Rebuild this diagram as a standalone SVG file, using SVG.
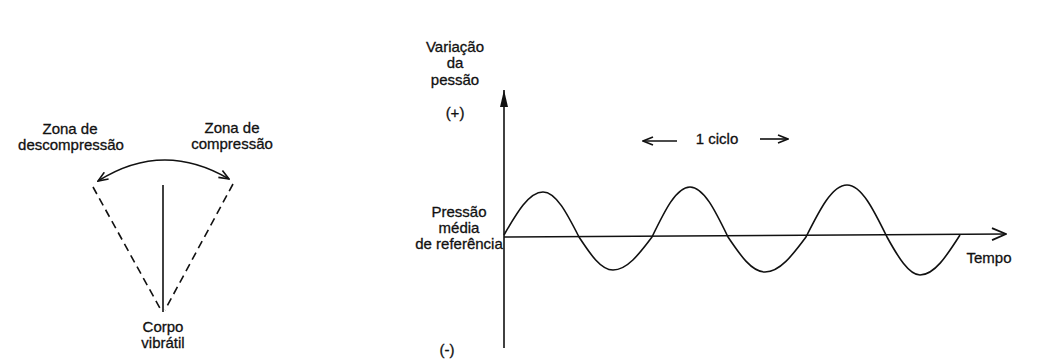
<svg xmlns="http://www.w3.org/2000/svg" width="1053" height="361" viewBox="0 0 1053 361">
<style>
text{font-family:"Liberation Sans",Arial,sans-serif;font-size:15px;fill:#111;stroke:#111;stroke-width:0.3;text-anchor:middle}
.ln{stroke:#111;stroke-width:1.6;fill:none}
.dash{stroke:#111;stroke-width:1.6;fill:none;stroke-dasharray:8 5}
</style>
<defs>
<marker id="open" viewBox="0 0 16 16" refX="15" refY="8" markerWidth="16" markerHeight="16" markerUnits="userSpaceOnUse" orient="auto-start-reverse">
<path d="M1,2 L15,8 L1,14" fill="none" stroke="#111" stroke-width="1.8"/>
</marker>
<marker id="fill" viewBox="0 0 18 10" refX="17" refY="5" markerWidth="18" markerHeight="10" markerUnits="userSpaceOnUse" orient="auto">
<path d="M0,1 L17,5 L0,9 Z" fill="#111"/>
</marker>
<marker id="small" viewBox="0 0 12 10" refX="11" refY="5" markerWidth="12" markerHeight="10" markerUnits="userSpaceOnUse" orient="auto-start-reverse">
<path d="M1,1 L11,5 L1,9" fill="none" stroke="#111" stroke-width="1.6"/>
</marker>
</defs>
<g id="labels-left">
<text x="70" y="134">Zona de</text>
<text x="71" y="150">descompressão</text>
<text x="232" y="133">Zona de</text>
<text x="232" y="149">compressão</text>
<text x="163" y="332">Corpo</text>
<text x="163" y="348">vibrátil</text>
</g>
<g id="connectors">
<path class="ln" d="M98,181 Q163,140 229,179" marker-start="url(#small)" marker-end="url(#small)"/>
<line class="dash" x1="93" y1="187" x2="161" y2="310"/>
<line class="dash" x1="233" y1="184" x2="165" y2="310"/>
<line class="ln" x1="163" y1="185" x2="163" y2="312"/>
<line class="ln" x1="504" y1="348" x2="504" y2="90" marker-end="url(#fill)"/>
<line class="ln" x1="504" y1="237" x2="1006" y2="234" marker-end="url(#open)"/>
<line class="ln" x1="677" y1="141" x2="643" y2="141" marker-end="url(#small)"/>
<line class="ln" x1="760" y1="139" x2="788" y2="139" marker-end="url(#small)"/>
</g>
<g id="wave">
<path class="ln" d="M504,235 C517,212.4 529,192 543,192 C556,192 567,213.4 579,237 C590.4,254.3 600.8,270 613,270 C627,270 639,254.3 652,237 C664.7,210.8 676.3,187 690,187 C703.7,187 715.3,210.8 728,237 C740.4,255.4 751.7,272 765,272 C779.8,272 792.3,255.4 806,237 C819.7,209.7 832.2,185 847,185 C861.4,185 873.6,209.7 887,237 C898,257 909.1,275 920,275 C934.4,275 946.6,256 960,235"/>
</g>
<g id="labels-right">
<text x="455" y="52">Variação</text>
<text x="455" y="68">da</text>
<text x="455" y="85">pessão</text>
<text x="455" y="118">(+)</text>
<text x="717" y="144">1 ciclo</text>
<text x="459" y="217">Pressão</text>
<text x="459" y="233">média</text>
<text x="459" y="249">de referência</text>
<text x="989" y="263">Tempo</text>
<text x="447" y="355">(-)</text>
</g>
</svg>
